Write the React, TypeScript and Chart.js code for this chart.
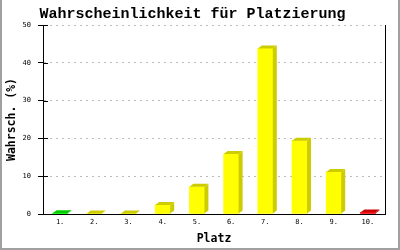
import React, { useEffect, useRef } from "react";
import { Chart, registerables } from "chart.js";

Chart.register(...registerables);

const categories = ["1.", "2.", "3.", "4.", "5.", "6.", "7.", "8.", "9.", "10."];
const values = [0.2, 0.1, 0.1, 2.4, 7.2, 15.9, 43.8, 19.4, 11.1, 0.4];
const frontColors = ["#00ff00", "#ffff00", "#ffff00", "#ffff00", "#ffff00", "#ffff00", "#ffff00", "#ffff00", "#ffff00", "#ff0000"];
const darkColors = ["#00cc00", "#cccc00", "#cccc00", "#cccc00", "#cccc00", "#cccc00", "#cccc00", "#cccc00", "#cccc00", "#cc0000"];
const titleText = "Wahrscheinlichkeit für Platzierung";
const yTitle = "Wahrsch. (%)";
const xTitle = "Platz";

const DX = 4;
const DY = 3;

const framePlugin = {
  id: "frame3d",
  beforeDraw(chart: any) {
    const ctx = chart.ctx;
    ctx.save();
    ctx.fillStyle = "#ffffff";
    ctx.fillRect(0, 0, chart.width, chart.height);
    ctx.restore();
  },
  afterDatasetsDraw(chart: any) {
    const ctx = chart.ctx;
    const meta = chart.getDatasetMeta(0);
    ctx.save();
    meta.data.forEach((bar: any, i: number) => {
      const { x, y, base, width } = bar.getProps(["x", "y", "base", "width"], true);
      const left = x - width / 2;
      const right = x + width / 2;
      ctx.fillStyle = darkColors[i];
      // top face
      ctx.beginPath();
      ctx.moveTo(left, y);
      ctx.lineTo(left + DX, y - DY);
      ctx.lineTo(right + DX, y - DY);
      ctx.lineTo(right, y);
      ctx.closePath();
      ctx.fill();
      // side face
      ctx.beginPath();
      ctx.moveTo(right, y);
      ctx.lineTo(right + DX, y - DY);
      ctx.lineTo(right + DX, base - DY);
      ctx.lineTo(right, base);
      ctx.closePath();
      ctx.fill();
    });
    ctx.restore();
  },
  afterDraw(chart: any) {
    const ctx = chart.ctx;
    const { left, right, top, bottom } = chart.chartArea;
    const yScale = chart.scales.y;
    ctx.save();
    ctx.strokeStyle = "#000";
    ctx.lineWidth = 1;
    // right border
    ctx.beginPath();
    ctx.moveTo(Math.round(right) + 0.5, top);
    ctx.lineTo(Math.round(right) + 0.5, bottom + 1);
    ctx.stroke();
    // inner tick marks
    yScale.ticks.forEach((t: any) => {
      const py = Math.round(yScale.getPixelForValue(t.value)) + 0.5;
      ctx.beginPath();
      ctx.moveTo(left, py);
      ctx.lineTo(left + 5, py);
      ctx.stroke();
    });
    // outer grey frame
    ctx.fillStyle = "#a0a0a0";
    ctx.fillRect(0, 0, 2, chart.height);
    ctx.fillRect(chart.width - 2, 0, 2, chart.height);
    ctx.fillRect(0, chart.height - 2, chart.width, 2);
    ctx.restore();
  },
};

export default function App() {
  const canvasRef = useRef<HTMLCanvasElement>(null);

  useEffect(() => {
    if (!canvasRef.current) return;
    const chart = new Chart(canvasRef.current, {
      type: "bar",
      data: {
        labels: categories,
        datasets: [
          {
            data: values,
            backgroundColor: frontColors,
            borderWidth: 0,
            barThickness: 15,
          },
        ],
      },
      plugins: [framePlugin],
      options: {
        responsive: false,
        animation: false,
        devicePixelRatio: 1,
        layout: { padding: { left: 0, right: 15, top: 0, bottom: 0 } },
        plugins: {
          legend: { display: false },
          tooltip: { enabled: false },
          title: {
            display: true,
            text: titleText,
            color: "#000",
            font: { family: "'Liberation Mono', monospace", size: 15, weight: "bold" },
            padding: { top: 5, bottom: 2 },
          },
        },
        scales: {
          x: {
            afterFit: (s: any) => {
              s.height = 36;
            },
            grid: { display: false, drawTicks: false, tickLength: 0 },
            border: { display: true, color: "#000", width: 1 },
            ticks: {
              color: "#000",
              font: { family: "'DejaVu Sans Mono', monospace", size: 7 },
              padding: 4,
              maxRotation: 0,
              autoSkip: false,
            },
            title: {
              display: true,
              text: xTitle,
              color: "#000",
              font: { family: "'DejaVu Sans Mono', monospace", size: 11.5, weight: "bold" },
              padding: { top: 0, bottom: 4 },
            },
          },
          y: {
            min: 0,
            max: 50,
            afterFit: (s: any) => {
              s.width = 43;
            },
            grid: {
              color: (c: any) => (c.tick && c.tick.value === 0 ? "rgba(0,0,0,0)" : "#bbbbbb"),
              tickColor: "#000",
              tickLength: 5,
              drawTicks: true,
              tickBorderDash: [],
            },
            border: { display: true, color: "#000", width: 1, dash: [2, 4] },
            ticks: {
              stepSize: 10,
              color: "#000",
              font: { family: "'DejaVu Sans Mono', monospace", size: 7 },
              padding: 7,
            },
            title: {
              display: true,
              text: yTitle,
              color: "#000",
              font: { family: "'DejaVu Sans Mono', monospace", size: 11.5, weight: "bold" },
              padding: { top: 5, bottom: 0 },
            },
          },
        },
      },
    });
    return () => chart.destroy();
  }, []);

  return (
    <div style={{ position: "fixed", left: 0, top: 0, width: 400, height: 250 }}>
      <canvas ref={canvasRef} width={400} height={250} />
    </div>
  );
}
